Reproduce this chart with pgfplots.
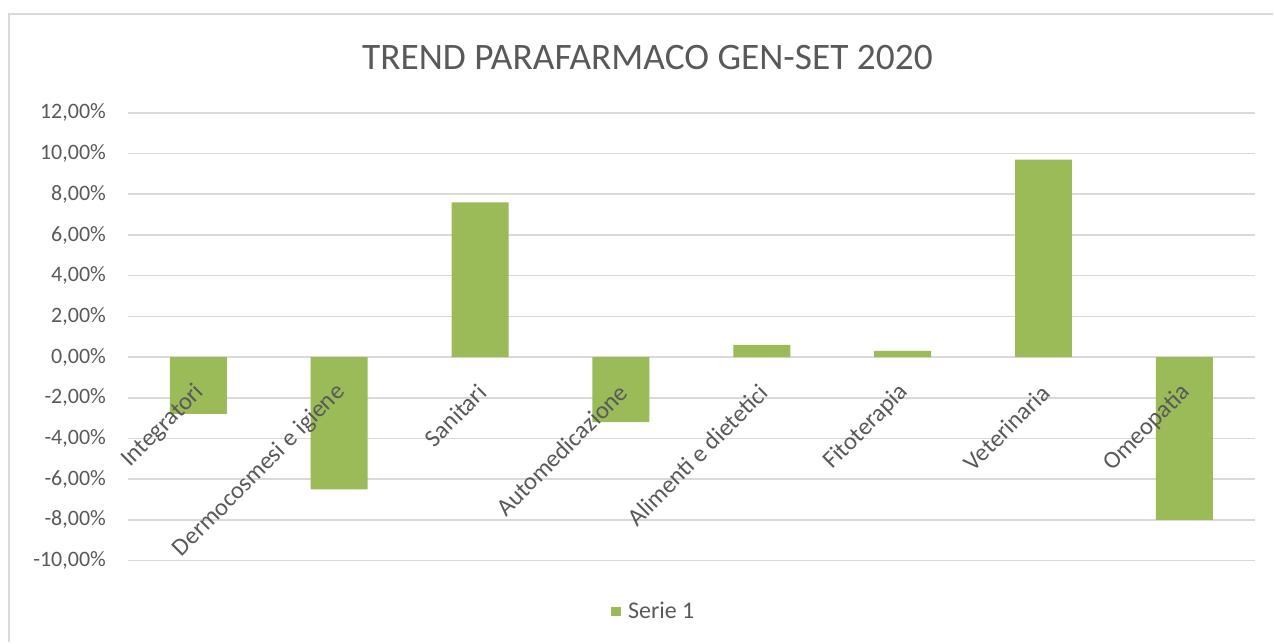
\documentclass[border=0pt]{standalone}
\usepackage{fontspec}
\setmainfont{Carlito}
\usepackage{pgfplots}
\pgfplotsset{compat=1.18}
\definecolor{barG}{RGB}{155,187,89}
\definecolor{txt}{RGB}{89,89,89}
\definecolor{gridc}{RGB}{217,217,217}
\pgfplotsset{base/.style={
    at={(0,0)}, anchor=south west,
    scale only axis, width=564bp, height=224bp,
    xmin=-0.5, xmax=7.5, ymin=-10, ymax=12,
    ytick={-10,-8,...,12},
    xtick={0,...,7},
    axis x line*=middle, axis y line*=left,
    axis line style={draw=none},
    major tick length=0pt,
    clip=false,
  }}
\begin{document}
\begin{tikzpicture}
% bars and grid
\begin{axis}[base,
    ybar, bar width=28.5bp,
    xticklabels={}, yticklabels={},
    ymajorgrids, grid style={gridc, line width=0.8bp},
    legend style={at={(0.4675,-0.114)}, anchor=center, draw=none, fill=none,
      font=\fontsize{12bp}{14bp}\selectfont, text=txt},
    legend image code/.code={\fill[#1] (0bp,-2.5bp) rectangle (5bp,2.5bp);},
    legend cell align=left,
    legend style={/tikz/every odd column/.append style={column sep=1.5bp}},
  ]
  \addplot[fill=barG, draw=none] coordinates {(0,-2.8) (1,-6.5) (2,7.6) (3,-3.2) (4,0.6) (5,0.3) (6,9.7) (7,-8.0)};
  \addlegendentry{Serie 1}
\end{axis}
% tick labels drawn over the bars
\begin{axis}[base,
    xticklabels={Integratori,Dermocosmesi e igiene,Sanitari,Automedicazione,Alimenti e dietetici,Fitoterapia,Veterinaria,Omeopatia},
    yticklabel={\pgfmathprintnumber[fixed,fixed zerofill,precision=2,use comma]{\tick}\%},
    /pgf/number format/assume math mode=true,
    y tick label style={font=\fontsize{11bp}{13bp}\selectfont, text=txt, xshift=-7.5bp},
    x tick label style={font=\fontsize{12.3bp}{14bp}\selectfont, text=txt, rotate=45, anchor=east, xshift=-7bp, yshift=-12bp},
  ]
\end{axis}
\node[text=txt, font=\fontsize{18.7bp}{22bp}\selectfont] at (260bp,251.5bp) {TREND PARAFARMACO GEN-SET 2020};
\draw[gridc, line width=1.2bp] (-59.5bp,-41bp) -- (-59.5bp,273.5bp) -- (573bp,273.5bp);
\path (-64bp,-41bp) rectangle (573bp,280.5bp);
\end{tikzpicture}
\end{document}
